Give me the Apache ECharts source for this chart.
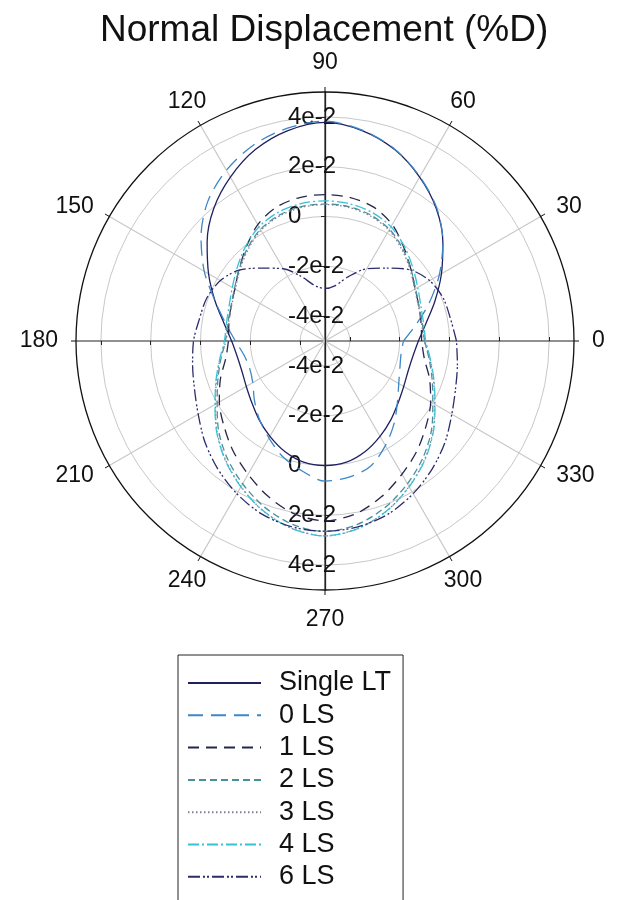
<!DOCTYPE html>
<html><head><meta charset="utf-8">
<script src="https://cdn.jsdelivr.net/npm/echarts@6/dist/echarts.min.js"></script>
<style>html,body{margin:0;padding:0;background:#fff}#c{width:617px;height:900px}</style>
</head><body><div id="c"></div>
<script>
// ---- data (radial value in %D, at polar angle in degrees) ----
const angles = [0,10,20,30,40,50,60,70,80,90,100,110,120,130,140,150,160,170,180,190,200,210,220,230,240,250,260,270,280,290,300,310,320,330,340,350,360];
const singleLT = [-0.0125,-0.0088,-0.0030,0.0040,0.0118,0.0195,0.0260,0.0318,0.0358,0.0378,0.0358,0.0318,0.0260,0.0195,0.0118,0.0040,-0.0030,-0.0088,-0.0125,-0.0142,-0.0145,-0.0135,-0.0116,-0.0088,-0.0058,-0.0028,-0.0006,0.0000,-0.0006,-0.0028,-0.0058,-0.0088,-0.0116,-0.0135,-0.0145,-0.0142,-0.0125];
const ls0 = [-0.0185,-0.0130,-0.0055,0.0030,0.0118,0.0198,0.0262,0.0320,0.0360,0.0383,0.0368,0.0338,0.0292,0.0232,0.0150,0.0060,-0.0030,-0.0095,-0.0140,-0.0170,-0.0178,-0.0165,-0.0130,-0.0090,-0.0050,-0.0005,0.0030,0.0063,0.0055,0.0035,-0.0015,-0.0068,-0.0120,-0.0158,-0.0180,-0.0190,-0.0185];
const ls1 = [-0.0112,-0.0108,-0.0098,-0.0082,-0.0050,-0.0008,0.0040,0.0072,0.0085,0.0088,0.0085,0.0072,0.0040,-0.0008,-0.0050,-0.0082,-0.0098,-0.0108,-0.0112,-0.0095,-0.0053,-0.0010,0.0030,0.0075,0.0118,0.0165,0.0205,0.0222,0.0205,0.0165,0.0118,0.0075,0.0030,-0.0010,-0.0053,-0.0095,-0.0112];
const ls2 = [-0.0100,-0.0103,-0.0098,-0.0080,-0.0050,-0.0015,0.0018,0.0038,0.0048,0.0050,0.0048,0.0038,0.0018,-0.0015,-0.0050,-0.0080,-0.0098,-0.0103,-0.0100,-0.0075,-0.0042,0.0000,0.0058,0.0112,0.0162,0.0210,0.0248,0.0265,0.0248,0.0210,0.0162,0.0112,0.0058,0.0000,-0.0042,-0.0075,-0.0100];
const ls3 = [-0.0102,-0.0106,-0.0100,-0.0084,-0.0054,-0.0020,0.0014,0.0034,0.0045,0.0048,0.0045,0.0034,0.0014,-0.0020,-0.0054,-0.0084,-0.0100,-0.0106,-0.0102,-0.0072,-0.0036,0.0008,0.0066,0.0122,0.0175,0.0226,0.0264,0.0283,0.0264,0.0226,0.0175,0.0122,0.0066,0.0008,-0.0036,-0.0072,-0.0102];
const ls4 = [-0.0096,-0.0098,-0.0090,-0.0070,-0.0040,-0.0004,0.0030,0.0050,0.0060,0.0063,0.0060,0.0050,0.0030,-0.0004,-0.0040,-0.0070,-0.0090,-0.0098,-0.0096,-0.0070,-0.0034,0.0010,0.0068,0.0124,0.0176,0.0226,0.0265,0.0283,0.0265,0.0226,0.0176,0.0124,0.0068,0.0010,-0.0034,-0.0070,-0.0096];
const ls6 = [0.0028,0.0012,0.0005,-0.0015,-0.0055,-0.0118,-0.0165,-0.0225,-0.0275,-0.0289,-0.0275,-0.0225,-0.0165,-0.0118,-0.0055,-0.0015,0.0005,0.0012,0.0028,0.0040,0.0058,0.0088,0.0130,0.0170,0.0208,0.0240,0.0258,0.0264,0.0258,0.0240,0.0208,0.0170,0.0130,0.0088,0.0058,0.0040,0.0028];
const seriesNames = ['Single LT','0 LS','1 LS','2 LS','3 LS','4 LS','6 LS'];
const seriesValues = [singleLT, ls0, ls1, ls2, ls3, ls4, ls6];
const radialTicks = [-0.04,-0.02,0,0.02,0.04];
const radialTickLabels = ['-4e-2','-2e-2','0','2e-2','4e-2'];
const angleLabelsAxis = [0,90,180,270];
const angleLabelsA = [30,150,210,330];
const angleLabelsB = [60,120,240,300];

// ---- styles ----
const FONT = "'Liberation Sans', Arial, sans-serif";
const styles = [
  {color:'#1f2060', type:'solid'},
  {color:'#3c87c8', type:[15,8]},
  {color:'#26264c', type:[11,7]},
  {color:'#4a8f9c', type:[7,4]},
  {color:'#80808e', type:[1.5,2.5]},
  {color:'#38c0d8', type:[11,3,2,3]},
  {color:'#2c2c6c', type:[12,3,2,2,2,3]}
];
const CENTER = [325, 341];
const RADIUS = 249;

function radialLabel(v){
  for (let i=0;i<radialTicks.length;i++) if (Math.abs(v-radialTicks[i])<1e-9) return radialTickLabels[i];
  return '';
}
function norm(v){ return ((v%360)+360)%360; }
function angleFmt(list, tag){
  return function(v){
    if (v >= 720) return '';
    const a = norm(v);
    if (list.indexOf(a) < 0) return '';
    return tag ? '{' + tag + '|' + a + '}' : String(a);
  };
}
const hidden = {show:false};
const labelTok = {fontSize:23, fontFamily:FONT, color:'#111'};

function extraAngle(idx, start, labelCfg){
  return {polarIndex:idx, type:'value', startAngle:start, clockwise:false, min:start, max:start+360, interval:30,
    axisLine:hidden, axisTick:hidden, splitLine:hidden, splitArea:hidden,
    axisLabel: labelCfg || hidden};
}
function extraRadius(idx, showLine, showLabels, margin){
  return {polarIndex:idx, type:'value', min:-0.05, max:0.05,
    axisLine:{show:showLine, lineStyle:{color:'#222', width:1.3}},
    axisTick:{show:true, length:4, customValues:radialTicks, lineStyle:{color:'#222', width:1}},
    axisLabel: showLabels ? {show:true, customValues:radialTicks, formatter:radialLabel, align:'left', margin:margin, fontSize:24, color:'#111', fontFamily:FONT} : {show:false, customValues:radialTicks},
    splitLine:hidden, splitArea:hidden};
}

const chart = echarts.init(document.getElementById('c'), null, {renderer:'canvas'});
const option = {
  backgroundColor:'#ffffff',
  animation:false,
  title:{text:'Normal Displacement (%D)', left:100, top:12, padding:0,
    textStyle:{fontSize:37, fontWeight:'normal', color:'#111', fontFamily:FONT}},
  polar:[
    {center:CENTER, radius:RADIUS},
    {center:CENTER, radius:RADIUS},
    {center:CENTER, radius:RADIUS},
    {center:CENTER, radius:RADIUS}
  ],
  angleAxis:[
    {polarIndex:0, type:'value', startAngle:0, clockwise:false, min:0, max:360, interval:30,
      axisLine:{show:true, lineStyle:{color:'#111', width:1.3}},
      axisTick:{show:true, length:5, lineStyle:{color:'#111', width:1}},
      axisLabel:{show:true, margin:18, fontSize:23, color:'#111', fontFamily:FONT, formatter:angleFmt(angleLabelsAxis)},
      splitLine:{show:true, lineStyle:{color:['#222222','#c8c8c8','#c8c8c8'], width:1.1}}},
    extraAngle(1, 90, {show:true, margin:18, fontSize:23, color:'#111', fontFamily:FONT,
      formatter:angleFmt(angleLabelsA, 'a'), rich:{a:Object.assign({lineHeight:2}, labelTok)}}),
    extraAngle(2, 270, {show:true, margin:26, fontSize:23, color:'#111', fontFamily:FONT,
      formatter:angleFmt(angleLabelsB, 'b'), rich:{b:Object.assign({lineHeight:2, width:1, align:'center'}, labelTok)}}),
    extraAngle(3, 180, null)
  ],
  radiusAxis:[
    {polarIndex:0, type:'value', min:-0.05, max:0.05,
      axisLine:{show:false},
      axisTick:{show:true, length:4, customValues:radialTicks, lineStyle:{color:'#222', width:1}},
      axisLabel:{show:false, customValues:radialTicks},
      splitLine:{show:true, lineStyle:{color:'#c8c8c8', width:1}}},
    extraRadius(1, true, true, 37),
    extraRadius(2, true, true, -37),
    extraRadius(3, false, false, 0)
  ],
  legend:{
    orient:'vertical', left:178, top:655, height:330, padding:[14,12,40,9],
    itemWidth:73, itemHeight:14, itemGap:4.3,
    borderColor:'#222', borderWidth:1, backgroundColor:'#fff',
    itemStyle:{opacity:0},
    textStyle:{fontSize:27, color:'#111', fontFamily:FONT, lineHeight:28, padding:[0,0,0,13]},
    data:seriesNames
  },
  series: seriesNames.map((name,k)=>({
    name:name, type:'line', coordinateSystem:'polar', polarIndex:0,
    symbol:'none', smooth:0.3, z:3,
    lineStyle:{color:styles[k].color, width:1.3, type:styles[k].type},
    itemStyle:{color:styles[k].color},
    data: angles.map((a,i)=>[seriesValues[k][i], a])
  }))
};
chart.setOption(option);
</script>
</body></html>
